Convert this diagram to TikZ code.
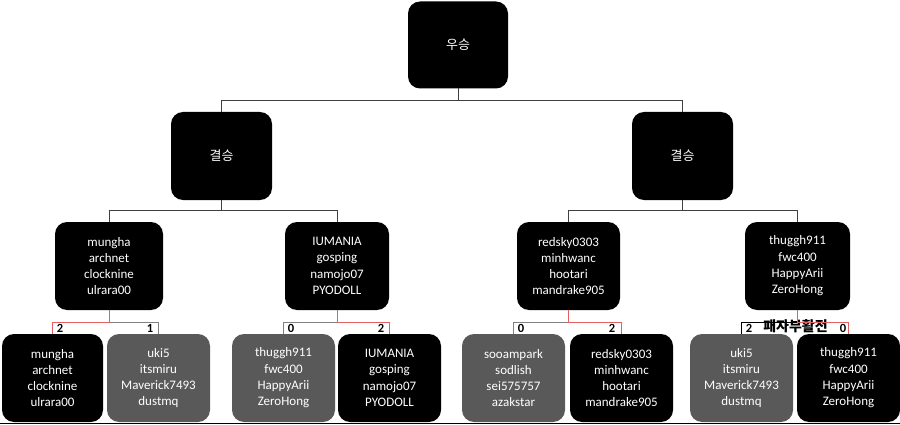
\documentclass[tikz,border=0pt]{standalone}
\usepackage{fontspec}
\setmainfont{Carlito}
\newfontfamily\kr{Noto Sans CJK KR}
\definecolor{lossgray}{RGB}{89,89,89}
\definecolor{winred}{RGB}{228,96,96}
\begin{document}
\begin{tikzpicture}[x=1pt,y=-1pt,every node/.style={outer sep=0pt},
team/.style={rounded corners=12pt,text=white,align=center,inner sep=0pt,minimum height=88pt,font=\fontsize{13}{16.3}\selectfont},
winbox/.style={team,fill=black},
losebox/.style={team,fill=lossgray},
link/.style={draw=black!75,line width=0.8pt},
winline/.style={draw=winred,line width=0.8pt},
loseline/.style={draw=gray,line width=0.8pt},
score/.style={inner sep=0pt,font=\bfseries\fontsize{12.5}{12.5}\selectfont}]
\useasboundingbox (0,0) rectangle (900,425);
\node[winbox,minimum width=100pt,minimum height=87pt] (final) at (458,45) {\kr 우승};
\node[winbox,minimum width=101pt] (semiL) at (221.5,156) {\kr 결승};
\node[winbox,minimum width=101pt] (semiR) at (682.5,156) {\kr 결승};
\node[winbox,minimum width=108pt] (qA) at (109,266) {mungha\\archnet\\clocknine\\ulrara00};
\node[winbox,minimum width=104pt] (qB) at (337,266) {IUMANIA\\gosping\\namojo07\\PYODOLL};
\node[winbox,minimum width=103pt] (qC) at (568.5,266) {redsky0303\\minhwanc\\hootari\\mandrake905};
\node[winbox,minimum width=105pt] (qD) at (797.5,266) {thuggh911\\fwc400\\HappyArii\\ZeroHong};
\node[score,text=black,font=\kr\bfseries\fontsize{14}{14}\selectfont] (revival) at (795.5,326.5) {패자부활전};
\node[winbox,minimum width=101pt] (mA) at (52.5,378) {mungha\\archnet\\clocknine\\ulrara00};
\node[losebox,minimum width=103pt] (mB) at (158.5,378) {uki5\\itsmiru\\Maverick7493\\dustmq};
\node[losebox,minimum width=103pt] (mC) at (283.5,378) {thuggh911\\fwc400\\HappyArii\\ZeroHong};
\node[winbox,minimum width=103pt] (mD) at (389.5,378) {IUMANIA\\gosping\\namojo07\\PYODOLL};
\node[losebox,minimum width=103pt] (mE) at (513.5,378) {sooampark\\sodlish\\sei575757\\azakstar};
\node[winbox,minimum width=103pt] (mF) at (621.5,378) {redsky0303\\minhwanc\\hootari\\mandrake905};
\node[losebox,minimum width=103pt] (mG) at (741.5,378) {uki5\\itsmiru\\Maverick7493\\dustmq};
\node[winbox,minimum width=103pt] (mH) at (848.5,378) {thuggh911\\fwc400\\HappyArii\\ZeroHong};
\draw[link] (final.south) -- ++(0,11.5) -| (semiL.north);
\draw[link] (final.south) ++(0,11.5) -| (semiR.north);
\draw[link] (semiL.south) -- ++(0,10) -| (qA.north);
\draw[link] (semiL.south) ++(0,10) -| (qB.north);
\draw[link] (semiR.south) -- ++(0,10) -| (qC.north);
\draw[link] (semiR.south) ++(0,10) -| (qD.north);
\draw[loseline] (qA.south) ++(0,12) -| (mB.north);
\draw[winline] (qA.south) -- ++(0,12) -| (mA.north);
\draw[loseline] (qB.south) ++(0,12) -| (mC.north);
\draw[winline] (qB.south) -- ++(0,12) -| (mD.north);
\draw[loseline] (qC.south) ++(0,12) -| (mE.north);
\draw[winline] (qC.south) -- ++(0,12) -| (mF.north);
\draw[draw=black,line width=0.8pt] (qD.south) ++(0,12) -| (mG.north);
\draw[winline] (qD.south) -- ++(0,12) -| (mH.north);
\node[score] (sA) at (60,328) {2};
\node[score] (sB) at (150,328) {1};
\node[score] (sC) at (291,328) {0};
\node[score] (sD) at (381,328) {2};
\node[score] (sE) at (521,328) {0};
\node[score] (sF) at (612,328) {2};
\node[score] (sG) at (749,328) {2};
\node[score] (sH) at (843,328) {0};
\draw[line width=1.5pt] (0,423.5) -- (900,423.5);
\end{tikzpicture}
\end{document}
